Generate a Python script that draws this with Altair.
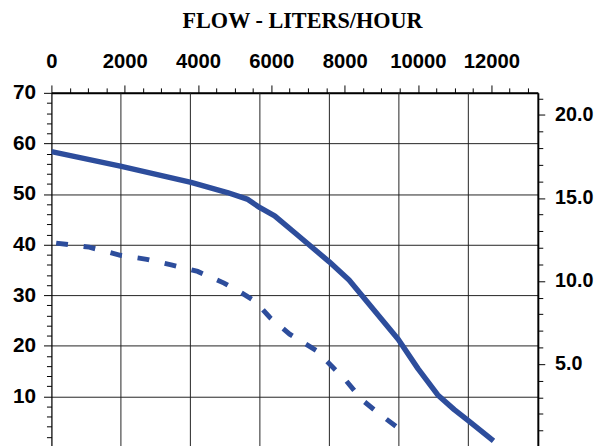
import altair as alt
import pandas as pd

# Solid curve (flow L/h vs head ft)
flow_solid = [0, 1880, 3810, 4800, 5340, 5690, 6090, 6680, 7580, 8120, 9460, 10000, 10540, 10990, 11390, 12060]
head_solid = [58.4, 55.5, 52.3, 50.3, 49.0, 47.3, 45.7, 42.1, 36.6, 33.0, 21.3, 15.5, 10.3, 7.4, 5.1, 1.2]

# Dashed curve
flow_dash = [130, 1030, 1880, 2600, 3270, 3990, 4710, 5200, 5560, 5960, 6500, 7220, 7670, 8030, 8480, 8920, 9510, 9640]
head_dash = [40.3, 39.5, 37.9, 37.1, 36.0, 34.7, 32.4, 30.4, 28.8, 25.6, 22.3, 19.1, 15.8, 13.2, 9.3, 6.7, 3.5, 2.8]

# Vertical grid positions (seven equal divisions of the frame)
grid_flow = [1896, 3791, 5687, 7583, 9479, 11374]

# Axis tick values
top_ticks = list(range(0, 13001, 500))
left_ticks = list(range(0, 71, 2))
right_ticks = list(range(0, 22, 1))

X_MAX = 13270
BLUE = "#2D4D9C"
FONT = "Liberation Sans"

solid_df = pd.DataFrame({"flow": flow_solid, "head": head_solid})
dash_df = pd.DataFrame({"flow": flow_dash, "head": head_dash})
grid_df = pd.DataFrame({"flow": grid_flow})
right_df = pd.DataFrame({"m": right_ticks})

xscale = alt.Scale(domain=[0, X_MAX], nice=False, zero=False)
yscale = alt.Scale(domain=[0, 70], nice=False)

x_axis = alt.Axis(
    orient="top", values=top_ticks, format="d", title=None,
    labelExpr="(datum.value % 2000 === 0 && datum.value <= 12000) ? datum.label : ''",
    tickSize={"condition": {"test": "datum.value % 2000 === 0", "value": 8}, "value": 5},
    labelFont=FONT, labelFontSize=20.5, labelFontWeight="bold", labelColor="black",
    labelPadding=14, labelOverlap=False, labelFlush=False,
    domainColor="black", domainWidth=2, tickColor="black", tickWidth=1, grid=False,
)

y_axis = alt.Axis(
    orient="left", values=left_ticks, title=None,
    labelExpr="(datum.value % 10 === 0 && datum.value > 0) ? datum.label : ''",
    tickSize={"condition": {"test": "datum.value % 10 === 0", "value": 8}, "value": 5},
    labelFont=FONT, labelFontSize=21, labelFontWeight="bold", labelColor="black",
    labelPadding=8, labelOverlap=False,
    domainColor="black", domainWidth=1.2, tickColor="black", tickWidth=1,
    grid=True, gridColor="#222222", gridWidth=1,
    gridOpacity={"condition": {"test": "datum.value % 10 === 0", "value": 1}, "value": 0},
)

y2_axis = alt.Axis(
    orient="right", values=right_ticks, title=None, format=".1f",
    labelExpr="(datum.value % 5 === 0 && datum.value > 0) ? datum.label : ''",
    tickSize={"condition": {"test": "datum.value % 5 === 0", "value": 7}, "value": 5},
    labelFont=FONT, labelFontSize=20, labelFontWeight="bold", labelColor="black",
    labelPadding=10, labelOverlap=False,
    domainColor="black", domainWidth=2, tickColor="black", tickWidth=1, grid=False,
)

grid = alt.Chart(grid_df).mark_rule(color="#222222", strokeWidth=1).encode(
    x=alt.X("flow:Q", scale=xscale, axis=x_axis)
)

solid = alt.Chart(solid_df).mark_line(color=BLUE, strokeWidth=5.5, clip=True, strokeJoin="round").encode(
    x=alt.X("flow:Q", scale=xscale, axis=x_axis),
    y=alt.Y("head:Q", scale=yscale, axis=y_axis),
)

dashed = alt.Chart(dash_df).mark_line(color=BLUE, strokeWidth=5, strokeDash=[12, 16], clip=True).encode(
    x=alt.X("flow:Q", scale=xscale, axis=x_axis),
    y=alt.Y("head:Q", scale=yscale, axis=y_axis),
)

left_layer = alt.layer(grid, solid, dashed)

right = alt.Chart(right_df).mark_rule(opacity=0).encode(
    y=alt.Y("m:Q", scale=alt.Scale(domain=[0, 21.336], nice=False), axis=y2_axis)
)

chart = alt.layer(left_layer, right).resolve_scale(y="independent").properties(
    width=493,
    height=359,
    title=alt.TitleParams(
        "FLOW - LITERS/HOUR", font="Liberation Serif", fontSize=22.5, fontWeight="bold",
        color="black", anchor="middle", offset=19, dx=8,
    ),
    autosize=alt.AutoSizeParams(type="none"),
    padding={"left": 44, "top": 83, "right": 63, "bottom": 0},
).configure_view(stroke=None).configure(background="white")

chart.save("out.html", embed_options={"renderer": "svg", "actions": False})
